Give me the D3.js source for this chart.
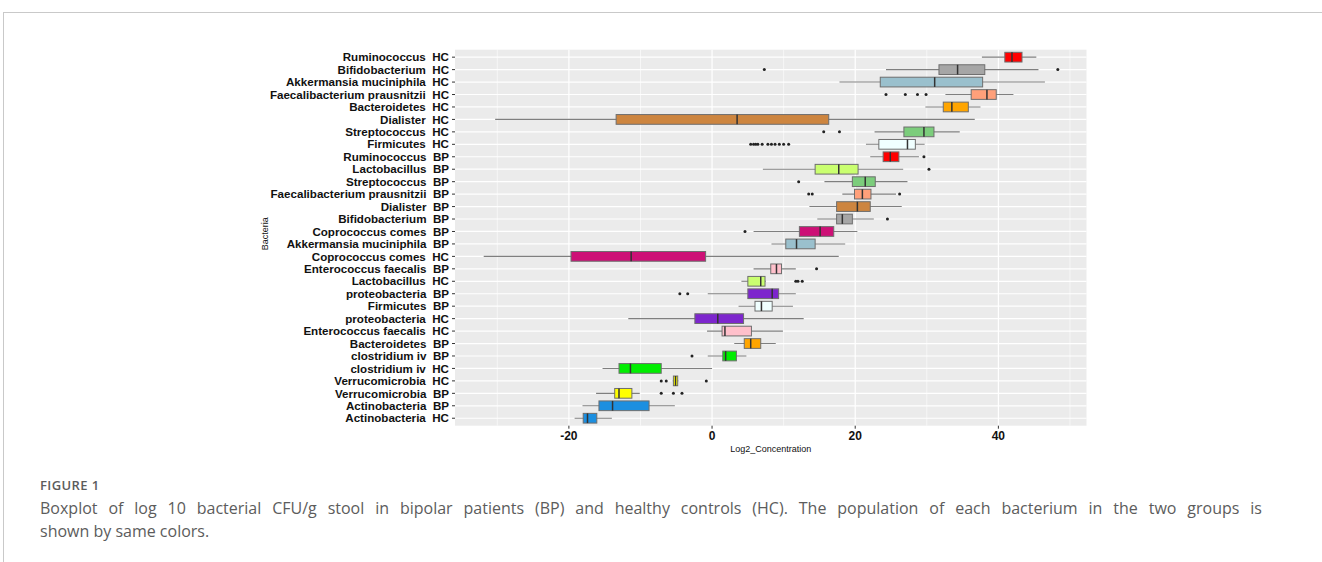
<!DOCTYPE html>
<html>
<head>
<meta charset="utf-8">
<script src="https://cdn.jsdelivr.net/npm/d3@7/dist/d3.min.js"></script>
<style>
  body { margin: 0; background: #fff; }
  svg { display: block; }
  .ylabel { font-family: "Liberation Sans", Arial, sans-serif; font-weight: bold; font-size: 11.6px; fill: #111; white-space: pre; }
  .xlabel { font-family: "Liberation Sans", Arial, sans-serif; font-weight: bold; font-size: 12px; fill: #111; }
  .axisTitle { font-family: "Liberation Sans", Arial, sans-serif; font-size: 9px; fill: #111; }
  .figTitle { font-family: "Open Sans", sans-serif; font-weight: 600; font-size: 13px; letter-spacing: 0.4px; fill: #5c5c5c; }
  .caption { font-family: "Open Sans", sans-serif; font-size: 16px; fill: #5c5c5c; }
</style>
</head>
<body>
<svg id="chart" width="1322" height="562"></svg>
<script>
// rows, top to bottom as in the figure
var names = ["Ruminococcus", "Bifidobacterium", "Akkermansia muciniphila", "Faecalibacterium prausnitzii",
  "Bacteroidetes", "Dialister", "Streptococcus", "Firmicutes", "Ruminococcus", "Lactobacillus",
  "Streptococcus", "Faecalibacterium prausnitzii", "Dialister", "Bifidobacterium", "Coprococcus comes",
  "Akkermansia muciniphila", "Coprococcus comes", "Enterococcus faecalis", "Lactobacillus", "proteobacteria",
  "Firmicutes", "proteobacteria", "Enterococcus faecalis", "Bacteroidetes", "clostridium iv",
  "clostridium iv", "Verrucomicrobia", "Verrucomicrobia", "Actinobacteria", "Actinobacteria"];
var groups = ["HC", "HC", "HC", "HC", "HC", "HC", "HC", "HC", "BP", "BP",
  "BP", "BP", "BP", "BP", "BP", "BP", "HC", "BP", "HC", "BP",
  "BP", "HC", "HC", "BP", "BP", "HC", "HC", "BP", "BP", "HC"];

var whiskerLow = [37.7, 24.3, 17.8, 32.6, 29.8, -30.3, 22.7, 21.5, 22.1, 7.1,
  15.7, 18.2, 13.6, 14.7, 5.8, 8.3, -31.9, 5.8, 4.1, -0.6,
  3.7, -11.7, -0.7, 3.1, -0.6, -15.3, -5.5, -16.2, -18.1, -19.2];
var q1 = [40.9, 31.7, 23.5, 36.2, 32.3, -13.4, 26.8, 23.3, 23.9, 14.4,
  19.6, 19.9, 17.4, 17.4, 12.2, 10.3, -19.7, 8.2, 5.0, 5.0,
  6.0, -2.4, 1.4, 4.5, 1.5, -13.0, -5.4, -13.6, -15.8, -18.0];
var medians = [41.9, 34.3, 31.1, 38.4, 33.5, 3.5, 29.6, 27.3, 24.9, 17.7,
  21.4, 21.0, 20.3, 18.2, 15.1, 11.8, -11.3, 9.0, 6.8, 8.4,
  6.9, 0.8, 1.8, 5.4, 1.9, -11.4, -5.1, -13.0, -13.9, -17.4];
var q3 = [43.3, 38.1, 37.8, 39.7, 35.8, 16.3, 31.0, 28.4, 26.1, 20.4,
  22.8, 22.2, 22.1, 19.6, 17.0, 14.4, -0.9, 9.7, 7.4, 9.3,
  8.4, 4.4, 5.5, 6.8, 3.4, -7.1, -4.8, -11.2, -8.8, -16.1];
var whiskerHigh = [45.3, 45.6, 46.5, 42.1, 37.5, 36.7, 34.6, 29.7, 28.9, 26.7,
  27.3, 25.7, 26.5, 22.6, 20.3, 18.6, 17.7, 11.7, 7.5, 11.7,
  11.3, 12.8, 9.9, 8.9, 4.8, 0.0, -4.7, -10.1, -5.2, -14.0];
var outliers = [[], [7.3, 48.3], [], [24.3, 27.0, 28.7, 29.9], [], [], [15.6, 17.8],
  [5.4, 5.8, 6.1, 6.4, 7.0, 7.8, 8.3, 8.8, 9.4, 10.0, 10.7], [29.6], [30.3],
  [12.1], [13.5, 14.0, 26.2], [], [24.5], [4.6], [], [], [14.6], [11.7, 12.0, 12.6], [-4.5, -3.4],
  [], [], [], [], [-2.8], [], [-7.1, -6.4, -0.8], [-7.1, -5.4, -4.2], [], []];

var xTicks = [-20, 0, 20, 40];
var xMinorTicks = [-30, -10, 10, 30, 50];

// one fill per bacterium, same in both groups
var palette = {
  "Ruminococcus": "#FF0000",
  "Bifidobacterium": "#A6A6A6",
  "Akkermansia muciniphila": "#9AC0CD",
  "Faecalibacterium prausnitzii": "#FFA07A",
  "Bacteroidetes": "#FFA500",
  "Dialister": "#CD853F",
  "Streptococcus": "#7CCD7C",
  "Firmicutes": "#F0FFFF",
  "Lactobacillus": "#CAFF70",
  "Coprococcus comes": "#CD1076",
  "Enterococcus faecalis": "#FFC0CB",
  "proteobacteria": "#7D26CD",
  "clostridium iv": "#00EE00",
  "Verrucomicrobia": "#FFFF00",
  "Actinobacteria": "#1C8FE0"
};

var rows = names.map(function (n, i) {
  return {
    key: n + "  " + groups[i],
    name: n,
    lo: whiskerLow[i], q1: q1[i], med: medians[i], q3: q3[i], hi: whiskerHigh[i],
    out: outliers[i]
  };
});

var svg = d3.select("#chart");

// card frame
svg.append("line").attr("x1", 3).attr("y1", 12.5).attr("x2", 1322).attr("y2", 12.5)
  .attr("stroke", "#c9c9c9").attr("stroke-width", 1);
svg.append("line").attr("x1", 3.5).attr("y1", 12).attr("x2", 3.5).attr("y2", 562)
  .attr("stroke", "#c9c9c9").attr("stroke-width", 1);

var panel = {left: 455, right: 1086.5, top: 49.7, bottom: 425.7};

// ggplot style 5% expansion around the data
var allVals = [];
rows.forEach(function (d) { allVals.push(d.lo, d.hi); allVals = allVals.concat(d.out); });
var ext = d3.extent(allVals);
var pad = (ext[1] - ext[0]) * 0.05;

var x = d3.scaleLinear()
  .domain([ext[0] - pad, ext[1] + pad])
  .range([panel.left, panel.right]);

var y = d3.scalePoint()
  .domain(rows.map(function (d) { return d.key; }))
  .range([panel.top, panel.bottom])
  .padding(0.6);

var boxH = y.step() * 0.78;

svg.append("rect")
  .attr("x", panel.left).attr("y", panel.top)
  .attr("width", panel.right - panel.left).attr("height", panel.bottom - panel.top)
  .attr("fill", "#EBEBEB");

// grid
svg.selectAll(".minor").data(xMinorTicks).enter().append("line")
  .attr("x1", function (d) { return x(d); }).attr("x2", function (d) { return x(d); })
  .attr("y1", panel.top).attr("y2", panel.bottom)
  .attr("stroke", "#fff").attr("stroke-width", 0.6);
svg.selectAll(".major").data(xTicks).enter().append("line")
  .attr("x1", function (d) { return x(d); }).attr("x2", function (d) { return x(d); })
  .attr("y1", panel.top).attr("y2", panel.bottom)
  .attr("stroke", "#fff").attr("stroke-width", 1.2);
svg.selectAll(".hgrid").data(rows).enter().append("line")
  .attr("x1", panel.left).attr("x2", panel.right)
  .attr("y1", function (d) { return y(d.key); }).attr("y2", function (d) { return y(d.key); })
  .attr("stroke", "#fff").attr("stroke-width", 1.2);

// boxes
var g = svg.selectAll(".box").data(rows).enter().append("g")
  .attr("transform", function (d) { return "translate(0," + y(d.key) + ")"; });

g.append("line")
  .attr("x1", function (d) { return x(d.lo); }).attr("x2", function (d) { return x(d.hi); })
  .attr("stroke", "#7f7f7f").attr("stroke-width", 1.1);

g.append("rect")
  .attr("x", function (d) { return x(d.q1); })
  .attr("y", -boxH / 2)
  .attr("width", function (d) { return x(d.q3) - x(d.q1); })
  .attr("height", boxH)
  .attr("fill", function (d) { return palette[d.name]; })
  .attr("stroke", "#6e6e6e").attr("stroke-width", 1);

g.append("line")
  .attr("x1", function (d) { return x(d.med); }).attr("x2", function (d) { return x(d.med); })
  .attr("y1", -boxH / 2).attr("y2", boxH / 2)
  .attr("stroke", "#333").attr("stroke-width", 1.5);

g.selectAll("circle").data(function (d) { return d.out; }).enter().append("circle")
  .attr("cx", function (v) { return x(v); })
  .attr("cy", 0)
  .attr("r", 1.5)
  .attr("fill", "#222");

// y axis
var yAxis = svg.append("g");
yAxis.selectAll("line").data(rows).enter().append("line")
  .attr("x1", panel.left - 3).attr("x2", panel.left)
  .attr("y1", function (d) { return y(d.key); }).attr("y2", function (d) { return y(d.key); })
  .attr("stroke", "#333").attr("stroke-width", 1);
yAxis.selectAll("text").data(rows).enter().append("text")
  .attr("class", "ylabel")
  .attr("x", panel.left - 6)
  .attr("y", function (d) { return y(d.key); })
  .attr("dy", "0.36em")
  .attr("text-anchor", "end")
  .text(function (d) { return d.key; });

// x axis
var xAxis = svg.append("g");
xAxis.selectAll("line").data(xTicks).enter().append("line")
  .attr("x1", function (d) { return x(d); }).attr("x2", function (d) { return x(d); })
  .attr("y1", panel.bottom).attr("y2", panel.bottom + 3)
  .attr("stroke", "#333").attr("stroke-width", 1);
xAxis.selectAll("text").data(xTicks).enter().append("text")
  .attr("class", "xlabel")
  .attr("x", function (d) { return x(d); })
  .attr("y", panel.bottom + 14)
  .attr("text-anchor", "middle")
  .text(function (d) { return d; });

svg.append("text").attr("class", "axisTitle")
  .attr("x", (panel.left + panel.right) / 2).attr("y", 451.5)
  .attr("text-anchor", "middle")
  .text("Log2_Concentration");

svg.append("text").attr("class", "axisTitle")
  .attr("transform", "translate(268," + ((panel.top + panel.bottom) / 2 - 4) + ") rotate(-90)")
  .attr("text-anchor", "middle")
  .text("Bacteria");

// caption, first line justified to the card width
svg.append("text").attr("class", "figTitle").attr("x", 40).attr("y", 490).text("FIGURE 1");
var line1 = svg.append("text").attr("class", "caption").attr("x", 40).attr("y", 513.5)
  .text("Boxplot of log 10 bacterial CFU/g stool in bipolar patients (BP) and healthy controls (HC). The population of each bacterium in the two groups is");
var natural = line1.node().getComputedTextLength();
var spaces = line1.text().split(" ").length - 1;
line1.style("word-spacing", Math.max(0, (1222 - natural) / spaces) + "px");
svg.append("text").attr("class", "caption").attr("x", 40).attr("y", 536.5)
  .text("shown by same colors.");
</script>
</body>
</html>
